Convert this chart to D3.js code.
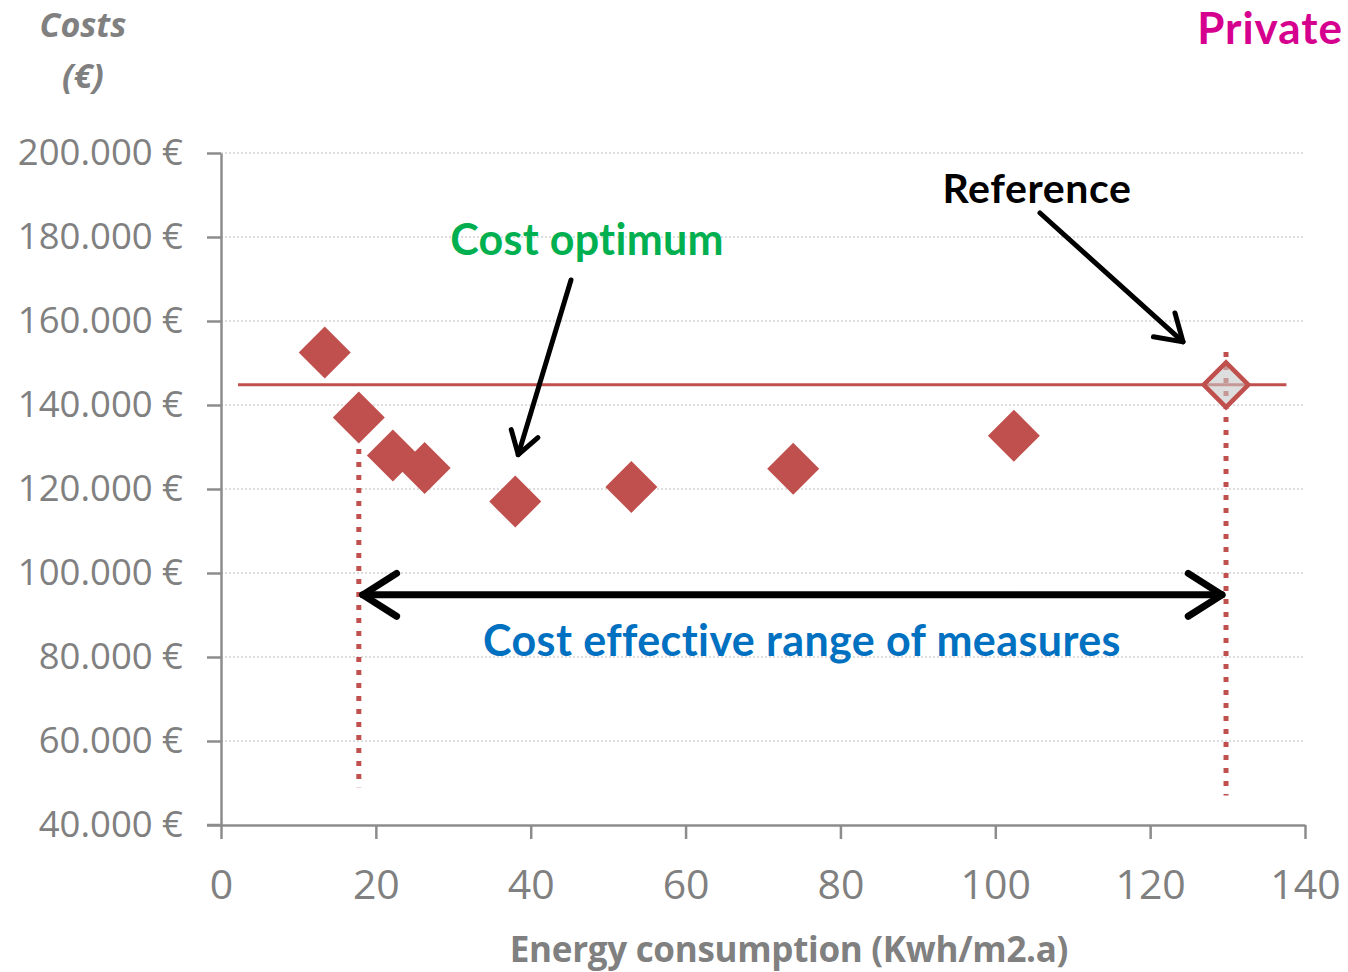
<!DOCTYPE html>
<html>
<head>
<meta charset="utf-8">
<script src="https://cdn.jsdelivr.net/npm/d3@7"></script>
<style>
  html, body { margin: 0; padding: 0; background: #fff; }
  svg { display: block; }
</style>
</head>
<body>
<svg id="chart" width="1348" height="972"></svg>
<script>
// Energy consumption (kWh/m2.a) and global costs (€) of each measure package
const energy = [13.4, 17.8, 22.2, 26.3, 38.0, 53.0, 73.9, 102.4];
const costs  = [152500, 137000, 128000, 125000, 117000, 120500, 124800, 132700];

// Reference building
const refEnergy = 129.8;
const refCost = 144800;

// Extent of the reference cost line along the x axis
const refLineExtent = [2.2, 137.6];

// Bounds of the cost-effective range
const rangeStart = 17.8;
const rangeEnd = 129.8;
const rangeArrowCost = 94800;
const rangeLineBottom = [49000, 47000];
const rangeLineTop = [129500, 152600];

// Tick values
const xTicks = [0, 20, 40, 60, 80, 100, 120, 140];
const yTicks = [40000, 60000, 80000, 100000, 120000, 140000, 160000, 180000, 200000];

const red = "#c0504d";
const axisGray = "#8c8c8c";
const textGray = "#808080";

const svg = d3.select("#chart");

const x = d3.scaleLinear().domain([0, 140]).range([221, 1305]);
const y = d3.scaleLinear().domain([40000, 200000]).range([825, 153]);

const locale = d3.formatLocale({ decimal: ",", thousands: ".", grouping: [3], currency: ["", " €"] });
const fmtCost = locale.format("$,.0f");

// Dotted gridlines
svg.append("g")
  .selectAll("line")
  .data(yTicks.filter(d => d > 40000))
  .join("line")
  .attr("x1", x(0)).attr("x2", x(140))
  .attr("y1", d => y(d)).attr("y2", d => y(d))
  .attr("stroke", "#d4d4d4")
  .attr("stroke-width", 1.5)
  .attr("stroke-dasharray", "2,2");

// Y axis
const yAxis = svg.append("g")
  .attr("transform", `translate(${x(0)},0)`)
  .call(d3.axisLeft(y).tickValues(yTicks).tickFormat(fmtCost).tickSize(14).tickSizeOuter(0).tickPadding(24));
yAxis.select(".domain").attr("stroke", axisGray).attr("stroke-width", 2.5);
yAxis.selectAll(".tick line").attr("stroke", axisGray).attr("stroke-width", 2.5);
yAxis.selectAll(".tick text")
  .attr("fill", textGray)
  .style("font-family", "'Open Sans', sans-serif")
  .style("font-size", "36.5px");

// X axis
const xAxis = svg.append("g")
  .attr("transform", `translate(0,${y(40000)})`)
  .call(d3.axisBottom(x).tickValues(xTicks).tickSize(14).tickSizeOuter(0).tickPadding(31));
xAxis.select(".domain").attr("stroke", axisGray).attr("stroke-width", 2.5);
xAxis.selectAll(".tick line").attr("stroke", axisGray).attr("stroke-width", 2.5);
xAxis.selectAll(".tick text")
  .attr("fill", textGray)
  .style("font-family", "'Open Sans', sans-serif")
  .style("font-size", "41px");
// Extend x axis to meet the left tick stub
xAxis.append("line")
  .attr("x1", x(0) - 14).attr("x2", x(0))
  .attr("y1", 0).attr("y2", 0)
  .attr("stroke", axisGray).attr("stroke-width", 2.5);

// Axis titles
const costTitle = svg.append("text")
  .attr("x", 83).attr("text-anchor", "middle")
  .attr("fill", textGray)
  .style("font-family", "'Open Sans', sans-serif")
  .style("font-size", "34px")
  .style("font-weight", "700")
  .style("font-style", "italic");
costTitle.append("tspan").attr("x", 83).attr("y", 37).text("Costs");
costTitle.append("tspan").attr("x", 83).attr("y", 88).text("(€)");

svg.append("text")
  .attr("x", 789).attr("y", 962)
  .attr("text-anchor", "middle")
  .attr("fill", textGray)
  .style("font-family", "'Open Sans', sans-serif")
  .style("font-size", "35px")
  .style("font-weight", "700")
  .style("letter-spacing", "-0.3px")
  .text("Energy consumption (Kwh/m2.a)");

// Reference cost line
svg.append("line")
  .attr("x1", x(refLineExtent[0])).attr("x2", x(refLineExtent[1]))
  .attr("y1", y(refCost)).attr("y2", y(refCost))
  .attr("stroke", red).attr("stroke-width", 3);

// Dotted bounds of the cost-effective range
svg.append("line")
  .attr("x1", x(rangeStart)).attr("x2", x(rangeStart))
  .attr("y1", y(rangeLineTop[0])).attr("y2", y(rangeLineBottom[0]))
  .attr("stroke", red).attr("stroke-width", 5)
  .attr("stroke-dasharray", "5,8");
svg.append("line")
  .attr("x1", x(rangeEnd)).attr("x2", x(rangeEnd))
  .attr("y1", y(rangeLineTop[1])).attr("y2", y(rangeLineBottom[1]))
  .attr("stroke", red).attr("stroke-width", 5)
  .attr("stroke-dasharray", "5,8");

// Measure packages as diamonds
const diamond = d3.symbol().type(d3.symbolSquare).size(1352);
svg.append("g")
  .selectAll("path")
  .data(energy.map((e, i) => ({ e, c: costs[i] })))
  .join("path")
  .attr("d", diamond)
  .attr("transform", d => `translate(${x(d.e)},${y(d.c)}) rotate(45)`)
  .attr("fill", red);

// Reference diamond
svg.append("path")
  .attr("d", d3.symbol().type(d3.symbolSquare).size(1000))
  .attr("transform", `translate(${x(refEnergy)},${y(refCost)}) rotate(45)`)
  .attr("fill", "rgba(200,200,200,0.6)")
  .attr("stroke", red)
  .attr("stroke-width", 4.5);

// Arrow helper: shaft plus open chevron head(s)
function arrow(x1, y1, x2, y2, width, headLen, both) {
  const g = svg.append("g")
    .attr("stroke", "#000").attr("stroke-width", width)
    .attr("stroke-linecap", "round").attr("stroke-linejoin", "round")
    .attr("fill", "none");
  g.append("line").attr("x1", x1).attr("y1", y1).attr("x2", x2).attr("y2", y2);
  const head = (px, py, ang) => {
    const a1 = ang + Math.PI * 0.82, a2 = ang - Math.PI * 0.82;
    g.append("path").attr("d",
      `M${px + headLen * Math.cos(a1)},${py + headLen * Math.sin(a1)} L${px},${py} L${px + headLen * Math.cos(a2)},${py + headLen * Math.sin(a2)}`);
  };
  const ang = Math.atan2(y2 - y1, x2 - x1);
  head(x2, y2, ang);
  if (both) head(x1, y1, ang + Math.PI);
}

// Cost-effective range double arrow
arrow(x(rangeStart) + 4, y(rangeArrowCost), x(rangeEnd) - 4, y(rangeArrowCost), 7, 40, true);

// Cost optimum pointer (to the package at 38 kWh/m2.a)
arrow(571, 280, x(energy[4]) + 3, y(costs[4]) - 47, 5, 26, false);

// Reference pointer
arrow(1040, 213, x(refEnergy) - 43, y(refCost) - 43, 5, 30, false);

// Annotations
const annFont = "Lato, 'Open Sans', sans-serif";
svg.append("text")
  .attr("x", 1037).attr("y", 203).attr("text-anchor", "middle")
  .attr("fill", "#000")
  .style("font-family", annFont).style("font-size", "41px").style("font-weight", "700")
  .style("letter-spacing", "0.6px")
  .text("Reference");

svg.append("text")
  .attr("x", 587).attr("y", 255).attr("text-anchor", "middle")
  .attr("fill", "#00b050")
  .style("font-family", annFont).style("font-size", "43px").style("font-weight", "700")
  .style("letter-spacing", "0.3px")
  .text("Cost optimum");

svg.append("text")
  .attr("x", 802).attr("y", 656).attr("text-anchor", "middle")
  .attr("fill", "#0070c0")
  .style("font-family", annFont).style("font-size", "43px").style("font-weight", "700")
  .style("letter-spacing", "0.4px")
  .text("Cost effective range of measures");

svg.append("text")
  .attr("x", 1343).attr("y", 44).attr("text-anchor", "end")
  .attr("fill", "#d6008f")
  .style("font-family", annFont).style("font-size", "44px").style("font-weight", "700")
  .style("letter-spacing", "1px")
  .text("Private");
</script>
</body>
</html>
